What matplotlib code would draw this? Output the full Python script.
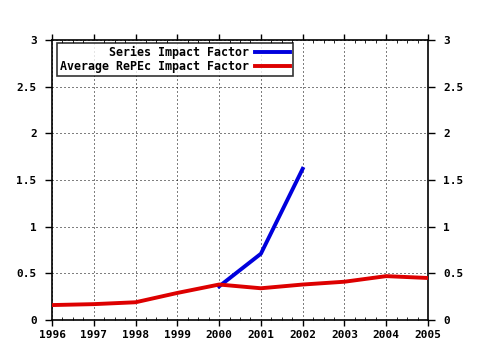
import matplotlib
matplotlib.use("Agg")
import matplotlib.pyplot as plt
from matplotlib.ticker import MultipleLocator

years = [1996, 1997, 1998, 1999, 2000, 2001, 2002, 2003, 2004, 2005]
avg_if = [0.16, 0.17, 0.19, 0.29, 0.38, 0.34, 0.38, 0.41, 0.47, 0.45]
series_years = [2000, 2001, 2002]
series_if = [0.36, 0.71, 1.62]
yticks = [0, 0.5, 1, 1.5, 2, 2.5, 3]
ytick_labels = ["0", "0.5", "1", "1.5", "2", "2.5", "3"]

fam = "DejaVu Sans Mono"
fig = plt.figure(figsize=(4.8, 3.5), dpi=100)
ax = fig.add_axes([52/480, 30/350, 376/480, 280/350])
ax.plot(series_years, series_if, color="#0000dd", lw=2.8, label="Series Impact Factor", zorder=3)
ax.plot(years, avg_if, color="#dd0000", lw=2.8, label="Average RePEc Impact Factor", zorder=3)
ax.set_xlim(1996, 2005)
ax.set_ylim(0, 3)
ax.set_xticks(years)
ax.set_xticklabels([str(y) for y in years], family=fam, fontweight="bold", fontsize=8)
ax.set_yticks(yticks)
ax.set_yticklabels(ytick_labels, family=fam, fontweight="bold", fontsize=8)
ax.xaxis.set_minor_locator(MultipleLocator(0.25))
ax.tick_params(axis="x", which="major", direction="out", length=4, width=1, top=True, pad=3)
ax.tick_params(axis="x", which="minor", direction="in", length=2, width=0.6, top=True)
ax.tick_params(axis="y", which="major", direction="out", length=5, width=1, right=True, labelright=True, pad=6)
ax.grid(True, which="major", color="black", linestyle=(0, (1, 3)), linewidth=0.72)
for s in ax.spines.values():
    s.set_linewidth(1.2)
leg = ax.legend(loc="upper left", bbox_to_anchor=(0.013, 0.99), markerfirst=False,
                prop={"family": fam, "weight": "bold", "size": 8.4}, frameon=True,
                fancybox=False, borderpad=0.25, handlelength=3, handletextpad=0.5,
                labelspacing=0.1, borderaxespad=0)
leg.get_frame().set_edgecolor("black")
leg.get_frame().set_linewidth(1.2)
for t in leg.get_texts():
    t.set_ha("right")
leg._legend_box.align = "right"
fig.savefig("out.png", dpi=100)
